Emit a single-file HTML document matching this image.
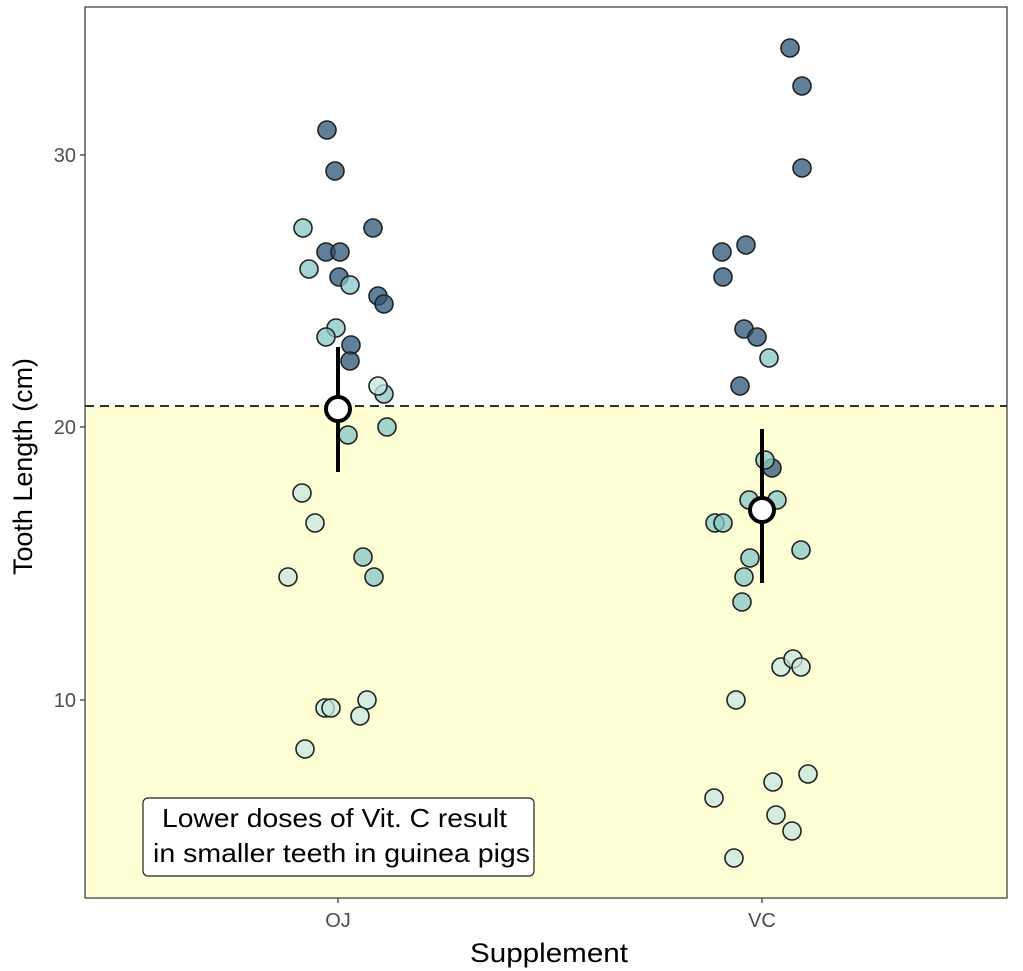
<!DOCTYPE html>
<html><head><meta charset="utf-8"><style>body{margin:0;background:#fff}svg{display:block}</style></head><body>
<svg width="1023" height="971" xmlns="http://www.w3.org/2000/svg" font-family="Liberation Sans, sans-serif">
<rect x="85" y="406" width="922" height="492" fill="#ffffd6"/>
<line x1="85" y1="406" x2="1007" y2="406" stroke="#333" stroke-width="2" stroke-dasharray="9,6"/>
<g stroke="#222" stroke-width="1.6" fill-opacity="0.75">
<g fill="#2b5476">
<circle cx="327" cy="130" r="9"/><circle cx="335" cy="171" r="9"/><circle cx="373" cy="228" r="9"/><circle cx="326" cy="252" r="9"/><circle cx="340" cy="252" r="9"/><circle cx="339" cy="277" r="9"/><circle cx="378" cy="296" r="9"/><circle cx="384" cy="304" r="9"/><circle cx="351" cy="345" r="9"/><circle cx="350" cy="361" r="9"/>
<circle cx="790" cy="48" r="9"/><circle cx="802" cy="86" r="9"/><circle cx="802" cy="168" r="9"/><circle cx="722" cy="252" r="9"/><circle cx="746" cy="245" r="9"/><circle cx="723" cy="277" r="9"/><circle cx="744" cy="329" r="9"/><circle cx="757" cy="337" r="9"/><circle cx="740" cy="386" r="9"/><circle cx="772" cy="468" r="9"/>
</g>
<g fill="#86c5c5">
<circle cx="303" cy="228" r="9"/><circle cx="309" cy="269" r="9"/><circle cx="350" cy="285" r="9"/><circle cx="336" cy="328" r="9"/><circle cx="326" cy="337" r="9"/><circle cx="384" cy="394" r="9"/><circle cx="387" cy="427" r="9"/><circle cx="348" cy="435" r="9"/><circle cx="374" cy="577" r="9"/><circle cx="363" cy="557" r="9"/>
<circle cx="769" cy="358" r="9"/><circle cx="765" cy="460" r="9"/><circle cx="749" cy="500" r="9"/><circle cx="777" cy="500" r="9"/><circle cx="715" cy="523" r="9"/><circle cx="723" cy="523" r="9"/><circle cx="750" cy="558" r="9"/><circle cx="744" cy="577" r="9"/><circle cx="742" cy="602" r="9"/><circle cx="801" cy="550" r="9"/>
</g>
<g fill="#c6e7e0">
<circle cx="378" cy="386" r="9"/><circle cx="302" cy="493" r="9"/><circle cx="315" cy="523" r="9"/><circle cx="288" cy="577" r="9"/><circle cx="325" cy="708" r="9"/><circle cx="331" cy="708" r="9"/><circle cx="367" cy="700" r="9"/><circle cx="360" cy="716" r="9"/><circle cx="305" cy="749" r="9"/>
<circle cx="736" cy="700" r="9"/><circle cx="781" cy="667" r="9"/><circle cx="793" cy="659" r="9"/><circle cx="801" cy="667" r="9"/><circle cx="773" cy="782" r="9"/><circle cx="808" cy="774" r="9"/><circle cx="714" cy="798" r="9"/><circle cx="776" cy="815" r="9"/><circle cx="792" cy="831" r="9"/><circle cx="734" cy="858" r="9"/>
</g>
</g>
<line x1="338" y1="347" x2="338" y2="472" stroke="#000" stroke-width="4"/>
<circle cx="338" cy="409" r="12" fill="#fff" stroke="#000" stroke-width="4"/>
<line x1="762" y1="429" x2="762" y2="583" stroke="#000" stroke-width="4"/>
<circle cx="762" cy="510" r="12" fill="#fff" stroke="#000" stroke-width="4"/>
<rect x="85" y="7" width="922" height="891" fill="none" stroke="#333" stroke-width="1.2"/>
<g stroke="#333" stroke-width="1.2"><line x1="80" y1="155" x2="85" y2="155"/><line x1="80" y1="427" x2="85" y2="427"/><line x1="80" y1="700" x2="85" y2="700"/><line x1="338" y1="898" x2="338" y2="903"/><line x1="762" y1="898" x2="762" y2="903"/></g>
<g fill="#4d4d4d" font-size="20" text-anchor="end"><text x="76" y="162">30</text><text x="76" y="434">20</text><text x="76" y="707">10</text></g>
<g fill="#4d4d4d" font-size="20" text-anchor="middle"><text x="338" y="927">OJ</text><text x="762" y="927">VC</text></g>
<text x="470" y="962" font-size="27" textLength="158" lengthAdjust="spacingAndGlyphs">Supplement</text>
<text transform="translate(32,575) rotate(-90)" font-size="27" textLength="217" lengthAdjust="spacingAndGlyphs">Tooth Length (cm)</text>
<rect x="143" y="798" width="391" height="78" rx="5" fill="#fff" stroke="#222" stroke-width="1.2"/>
<g font-size="26"><text x="162" y="827" textLength="345" lengthAdjust="spacingAndGlyphs">Lower doses of Vit. C result</text><text x="153" y="862" textLength="377" lengthAdjust="spacingAndGlyphs">in smaller teeth in guinea pigs</text></g>
</svg>
</body></html>
